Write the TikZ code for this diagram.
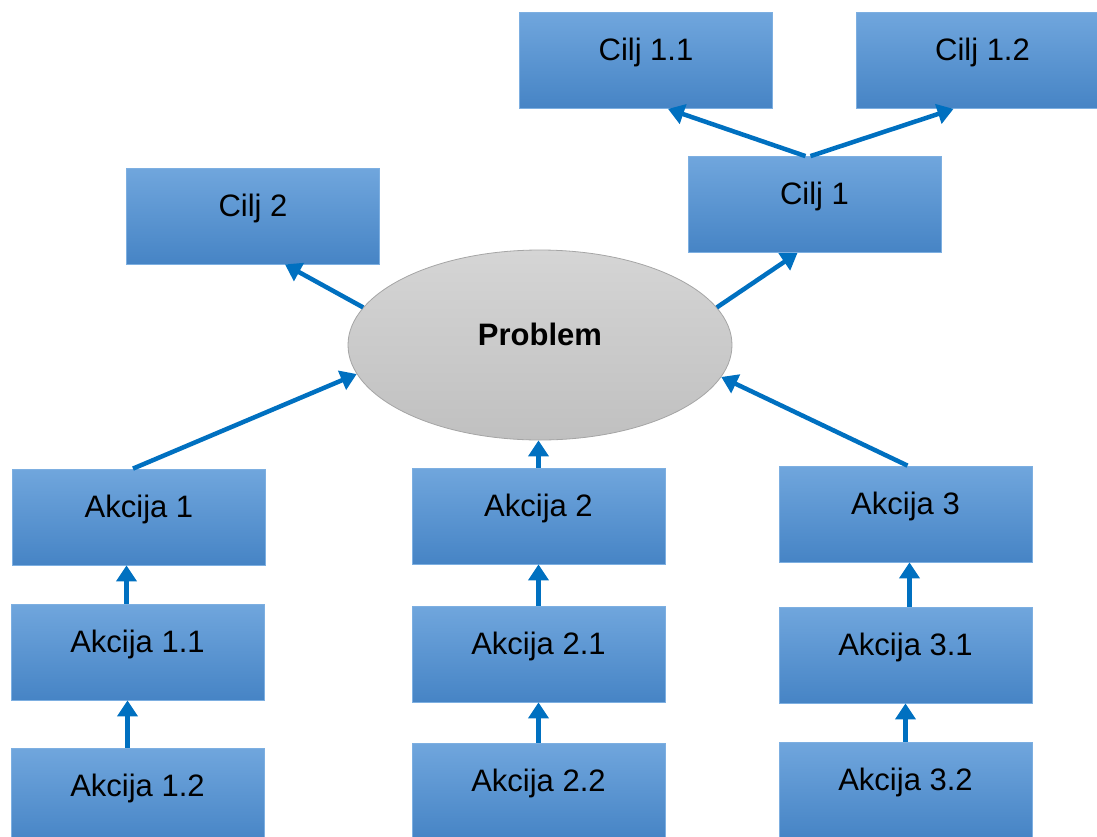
\documentclass[tikz,border=0pt]{standalone}
\usepackage{fontspec}
\setmainfont{Liberation Sans}
\usetikzlibrary{arrows.meta,shapes.geometric}
\definecolor{boxtop}{RGB}{112,166,221}
\definecolor{boxbot}{RGB}{70,132,197}
\definecolor{boxline}{RGB}{125,175,225}
\definecolor{elltop}{RGB}{213,213,213}
\definecolor{ellbot}{RGB}{192,192,192}
\definecolor{ellline}{RGB}{165,165,165}
\definecolor{arrowblue}{RGB}{0,112,192}
\tikzset{
  box/.style={rectangle, draw=boxline, line width=0.8pt, top color=boxtop, bottom color=boxbot,
    minimum width=253pt, minimum height=96pt, inner sep=0pt,
    font=\fontsize{31}{37}\selectfont, text height=22pt, text depth=22pt, text=black},
  prob/.style={ellipse, draw=ellline, line width=0.8pt, top color=elltop, bottom color=ellbot,
    minimum width=384pt, minimum height=190pt, inner sep=0pt,
    font=\fontsize{31}{37}\selectfont\bfseries, text height=22pt, text depth=22pt, text=black},
  link/.style={draw=arrowblue, line width=4.5pt, -{Triangle[length=16pt,width=20pt]}}
}
\begin{document}
\begin{tikzpicture}[x=1pt,y=-1pt]
\useasboundingbox (0,0) rectangle (1097,836);
\clip (0,0) rectangle (1097,836);
% goals
\node[box] (c11) at (646,60.5) {Cilj 1.1};
\node[box] (c12) at (982.5,60.5) {Cilj 1.2};
\node[box] (c2) at (253,216) {Cilj 2};
\node[box] (c1) at (814.5,204.5) {Cilj 1};
% problem
\node[prob] (pr) at (540,345) {Problem};
% actions
\node[box] (a1) at (139,517) {Akcija 1};
\node[box] (a11) at (137.5,652) {Akcija 1.1};
\node[box] (a12) at (137.5,796) {Akcija 1.2};
\node[box] (a2) at (538.5,516) {Akcija 2};
\node[box] (a21) at (538.5,654) {Akcija 2.1};
\node[box] (a22) at (538.5,791) {Akcija 2.2};
\node[box] (a3) at (905.5,514) {Akcija 3};
\node[box] (a31) at (905.5,655) {Akcija 3.1};
\node[box] (a32) at (905.5,790) {Akcija 3.2};
% connectors
\draw[link] ([xshift=-9pt]c1.north) -- ([xshift=22pt]c11.south);
\draw[link] ([xshift=-4pt]c1.north) -- ([xshift=-29pt]c12.south);
\draw[link] (pr.168) -- ([xshift=32pt]c2.south);
\draw[link] (pr.12) -- ([xshift=-17pt]c1.south);
\draw[link] ([xshift=-6pt]a1.north) -- (pr.189);
\draw[link] (a2.north) -- (a2.north |- pr.south);
\draw[link] ([xshift=2pt]a3.north) -- (pr.350);
\draw[link] ([xshift=-11pt]a11.north) -- ([xshift=-11pt]a11.north |- a1.south);
\draw[link] ([xshift=-10pt]a12.north) -- ([xshift=-10pt]a12.north |- a11.south);
\draw[link] (a21.north) -- (a21.north |- a2.south);
\draw[link] (a22.north) -- (a22.north |- a21.south);
\draw[link] ([xshift=4pt]a31.north) -- ([xshift=4pt]a31.north |- a3.south);
\draw[link] (a32.north) -- (a32.north |- a31.south);
\end{tikzpicture}
\end{document}
